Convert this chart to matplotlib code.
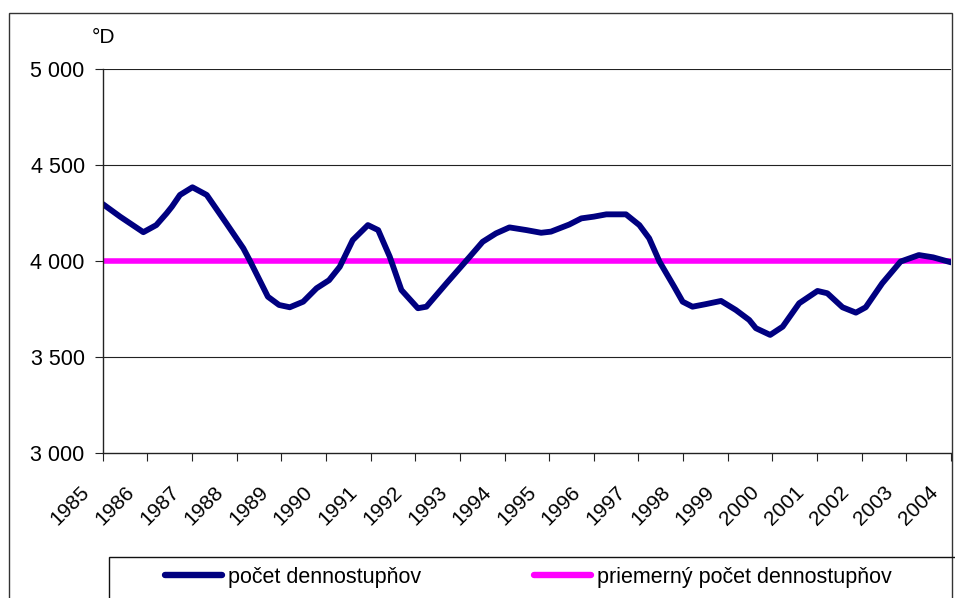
import matplotlib
matplotlib.use("Agg")
import matplotlib.pyplot as plt
import matplotlib.transforms as mtransforms
from matplotlib.patches import Rectangle

# hodnoty odčítané z grafu (rok, počet dennostupňov)
roky = [1985.00, 1985.39, 1985.91, 1986.20, 1986.43, 1986.55, 1986.73, 1987.01,
        1987.33, 1987.77, 1988.15, 1988.30, 1988.70, 1988.95, 1989.19, 1989.49,
        1989.79, 1990.07, 1990.31, 1990.60, 1990.94, 1991.17, 1991.43, 1991.69,
        1992.06, 1992.25, 1992.70, 1993.22, 1993.51, 1993.81, 1994.11, 1994.49,
        1994.82, 1995.04, 1995.45, 1995.72, 1996.00, 1996.28, 1996.72, 1997.02,
        1997.24, 1997.47, 1997.80, 1997.99, 1998.21, 1998.50, 1998.85, 1999.18,
        1999.48, 1999.63, 1999.95, 2000.23, 2000.60, 2001.01, 2001.23, 2001.57,
        2001.87, 2002.09, 2002.46, 2002.87, 2003.28, 2003.60, 2004.00]
dennostupne = [4297, 4231, 4150, 4187, 4248, 4283, 4344, 4384,
               4344, 4196, 4066, 4000, 3814, 3771, 3759, 3788,
               3858, 3900, 3970, 4109, 4187, 4161, 4022, 3849,
               3754, 3762, 3884, 4022, 4100, 4144, 4175, 4161,
               4147, 4153, 4190, 4222, 4231, 4243, 4243, 4187,
               4118, 3997, 3866, 3788, 3762, 3775, 3792, 3745,
               3693, 3650, 3615, 3658, 3780, 3844, 3832, 3759,
               3731, 3759, 3884, 3997, 4031, 4019, 3993]
priemer = 4000

x_roky = list(range(1985, 2005))
x_popisy = [str(r) for r in x_roky]
y_hodnoty = [3000, 3500, 4000, 4500, 5000]
y_popisy = ["3 000", "3 500", "4 000", "4 500", "5 000"]

plt.rcParams["font.family"] = ["Liberation Sans", "DejaVu Sans"]

W, H = 955, 598
fig = plt.figure(figsize=(W / 100, H / 100), dpi=100)
ax = fig.add_axes([102.7 / W, 1 - 453 / H, (951 - 102.7) / W, (453 - 69) / H])

ax.plot([x_roky[0], x_roky[-1]], [priemer, priemer], color="#FF00FF", lw=4.0,
        solid_capstyle="butt", label="priemerný počet dennostupňov", zorder=2)
ax.plot(roky, dennostupne, color="#000080", lw=4.2, solid_joinstyle="round",
        solid_capstyle="round", label="počet dennostupňov", zorder=3)

ax.set_xlim(x_roky[0], x_roky[-1])
ax.set_ylim(y_hodnoty[0], y_hodnoty[-1])
ax.set_yticks(y_hodnoty)
ax.set_yticklabels(y_popisy, fontsize=15.5)
ax.set_xticks(x_roky)
ax.set_xticklabels(x_popisy, fontsize=15)

for y in y_hodnoty[1:]:
    ax.axhline(y, color="#222222", lw=0.8, zorder=1)

for s in ["top", "right"]:
    ax.spines[s].set_visible(False)
for s in ["left", "bottom"]:
    ax.spines[s].set_color("#222222")
    ax.spines[s].set_linewidth(1.0)
    ax.spines[s].set_zorder(4)

ax.tick_params(axis="both", direction="out", length=6, width=0.8, color="#222222")
ax.tick_params(axis="y", pad=7)
ax.tick_params(axis="x", pad=20)

posun = mtransforms.ScaledTranslation(-0.16, 0, fig.dpi_scale_trans)
for lbl in ax.get_xticklabels():
    lbl.set_rotation(45)
    lbl.set_ha("right")
    lbl.set_va("center")
    lbl.set_rotation_mode("anchor")
    lbl.set_transform(lbl.get_transform() + posun)

ax.text(-0.013, 1.081, "°D", transform=ax.transAxes, fontsize=15, ha="left", va="center")

# vonkajší rámček grafu
fig.add_artist(Rectangle((9 / W, -0.1), (952 - 9) / W, 1.1 - 13 / H, transform=fig.transFigure,
                         fill=False, edgecolor="#333333", lw=1.0))

# legenda
fig.add_artist(Rectangle((109 / W, -0.1), 1.0, 0.1 + 1 - 557 / H, transform=fig.transFigure,
                         fill=False, edgecolor="#111111", lw=1.0))
h, l = ax.get_legend_handles_labels()
leg = fig.legend(h[::-1], l[::-1], loc="center left", bbox_to_anchor=(165 / W, 1 - 577 / H),
                 ncol=2, frameon=False, fontsize=15.5, handlelength=2.65, handletextpad=0.28,
                 columnspacing=5.25, borderaxespad=0, borderpad=0)
for ln in leg.get_lines():
    ln.set_linewidth(4.6)
    ln.set_solid_capstyle("round")

fig.savefig("out.png", dpi=100)
